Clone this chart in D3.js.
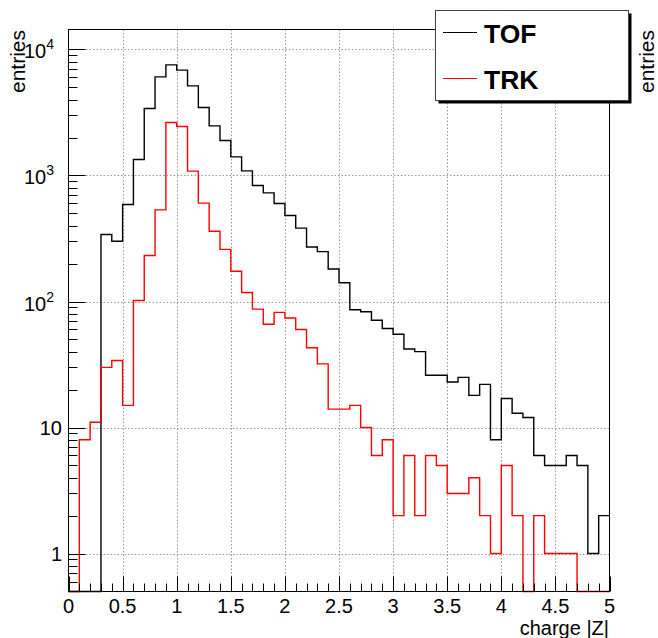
<!DOCTYPE html>
<html>
<head>
<meta charset="utf-8">
<script src="https://cdn.jsdelivr.net/npm/d3@7"></script>
<style>
  html, body { margin: 0; padding: 0; background: #fff; }
  svg { display: block; font-family: "Liberation Sans", Arial, Helvetica, sans-serif; }
</style>
</head>
<body>
<svg id="chart" width="658" height="638"></svg>
<script>
// Charge spectrum |Z|: 50 bins of width 0.1 from 0 to 5
const binEdges0 = 0, binWidth = 0.1;
const tofCounts = [0, 0, 0, 340, 301, 589, 1340, 3404, 6064, 7546,
  6853, 5142, 3466, 2475, 1896, 1406, 1088, 833, 728, 600,
  482, 382, 271, 249, 181, 141, 86, 83, 71, 61,
  55, 42, 40, 26, 26, 23, 25, 18, 22, 8,
  17, 13, 12, 6, 5, 5, 6, 5, 1, 2];
const trkCounts = [0, 8, 11, 30, 34, 15, 102, 232, 533, 2635,
  2449, 1082, 603, 361, 259, 174, 118, 87, 66, 82,
  74, 60, 43, 32, 14, 14, 15, 10, 6, 8,
  2, 6, 2, 6, 5, 3, 3, 4, 2, 1,
  5, 2, 0, 2, 1, 1, 1, 0, 0, 0];
const seriesNames = ["TOF", "TRK"];
const seriesColors = ["#000000", "#ff0000"];
const xDomain = [0, 5];
const yDomain = [0.5, 14400];
const xMajorTicks = [0, 0.5, 1, 1.5, 2, 2.5, 3, 3.5, 4, 4.5, 5];
const xTickLabels = ["0", "0.5", "1", "1.5", "2", "2.5", "3", "3.5", "4", "4.5", "5"];
const yMajorTicks = [1, 10, 100, 1000, 10000];
const xTitle = "charge |Z|";
const yTitle = "entries";

const svg = d3.select("#chart");
const frame = { left: 68.5, right: 609.5, top: 29.5, bottom: 591.5 };

const x = d3.scaleLinear().domain(xDomain).range([frame.left, frame.right]);
const y = d3.scaleLog().domain(yDomain).range([frame.bottom, frame.top]);

// grid
const grid = svg.append("g").attr("stroke", "#999").attr("stroke-dasharray", "1.5,2").attr("stroke-width", 1);
xMajorTicks.filter(t => t > xDomain[0] && t < xDomain[1]).forEach(t => {
  const px = Math.round(x(t)) + 0.5;
  grid.append("line").attr("x1", px).attr("x2", px).attr("y1", frame.top).attr("y2", frame.bottom);
});
yMajorTicks.forEach(t => {
  const py = Math.round(y(t)) + 0.5;
  grid.append("line").attr("x1", frame.left).attr("x2", frame.right).attr("y1", py).attr("y2", py);
});

// histograms as step outlines
function stepPoints(counts) {
  const pts = [];
  counts.forEach((c, i) => {
    const v = Math.max(c, yDomain[0]);
    pts.push([binEdges0 + i * binWidth, v]);
    pts.push([binEdges0 + (i + 1) * binWidth, v]);
  });
  return pts;
}
const line = d3.line().x(d => x(d[0])).y(d => y(d[1]));
[tofCounts, trkCounts].forEach((counts, k) => {
  svg.append("path")
    .attr("d", line(stepPoints(counts)))
    .attr("fill", "none")
    .attr("stroke", seriesColors[k])
    .attr("stroke-width", 1.4);
});

// frame
svg.append("rect")
  .attr("x", frame.left).attr("y", frame.top)
  .attr("width", frame.right - frame.left).attr("height", frame.bottom - frame.top)
  .attr("fill", "none").attr("stroke", "#000").attr("stroke-width", 1);

// x axis ticks (minor every 0.1, major every 0.5)
const axisG = svg.append("g").attr("stroke", "#000").attr("stroke-width", 1);
d3.range(0, 51).forEach(i => {
  const v = i * 0.1;
  const major = i % 5 === 0;
  const px = Math.round(x(v)) + 0.5;
  axisG.append("line").attr("x1", px).attr("x2", px)
    .attr("y1", frame.bottom).attr("y2", frame.bottom - (major ? 15 : 8));
});
svg.append("g").selectAll("text").data(xMajorTicks).join("text")
  .attr("x", d => x(d)).attr("y", 613)
  .attr("text-anchor", "middle").attr("font-size", 20).attr("fill", "#000")
  .text((d, i) => xTickLabels[i]);

// y axis ticks (log: majors at decades, minors at 2..9)
const yMinor = [];
for (let e = -1; e <= 4; e++) {
  for (let m = 2; m <= 9; m++) {
    const v = m * Math.pow(10, e);
    if (v > yDomain[0] && v < yDomain[1]) yMinor.push(v);
  }
}
yMinor.forEach(v => {
  const py = Math.round(y(v)) + 0.5;
  axisG.append("line").attr("x1", frame.left).attr("x2", frame.left + 9).attr("y1", py).attr("y2", py);
});
yMajorTicks.forEach(v => {
  const py = Math.round(y(v)) + 0.5;
  axisG.append("line").attr("x1", frame.left).attr("x2", frame.left + 17).attr("y1", py).attr("y2", py);
});
const yLab = svg.append("g").attr("font-size", 20).attr("fill", "#000");
yMajorTicks.forEach(v => {
  const ex = Math.round(Math.log10(v));
  if (ex <= 1) {
    yLab.append("text").attr("x", 62).attr("y", y(v) + 7).attr("text-anchor", "end").text(String(v));
  } else {
    const t = yLab.append("text").attr("x", 54).attr("y", y(v) + 9).attr("text-anchor", "end");
    t.append("tspan").text("10");
    t.append("tspan").attr("font-size", 14).attr("dy", -9).text(String(ex));
  }
});

// axis titles
svg.append("text").attr("x", 609).attr("y", 635).attr("text-anchor", "end")
  .attr("font-size", 20).attr("fill", "#000").text(xTitle);
svg.append("text").attr("transform", "translate(25,30) rotate(-90)")
  .attr("text-anchor", "end").attr("font-size", 21).attr("fill", "#000").text(yTitle);
svg.append("text").attr("transform", "translate(654,30) rotate(-90)")
  .attr("text-anchor", "end").attr("font-size", 21).attr("fill", "#000").text(yTitle);

// legend with drop shadow
const lg = svg.append("g");
lg.append("rect").attr("x", 438.5).attr("y", 13.5).attr("width", 193).attr("height", 90).attr("fill", "#000");
lg.append("rect").attr("x", 435.5).attr("y", 10.5).attr("width", 193).attr("height", 90)
  .attr("fill", "#fff").attr("stroke", "#444").attr("stroke-width", 1);
seriesNames.forEach((name, i) => {
  const cy = 32.5 + i * 46;
  lg.append("line").attr("x1", 443).attr("x2", 477).attr("y1", cy).attr("y2", cy)
    .attr("stroke", seriesColors[i]).attr("stroke-width", 1);
  lg.append("text").attr("x", 484).attr("y", cy + 10.5)
    .attr("font-size", 26.5).attr("font-weight", "bold").attr("fill", "#000").text(name);
});
</script>
</body>
</html>
